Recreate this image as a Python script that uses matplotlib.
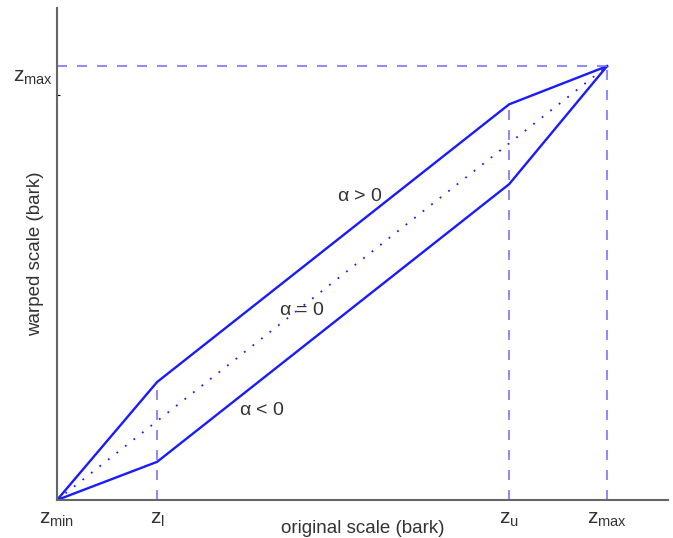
import numpy as np
import matplotlib.pyplot as plt

plt.rcParams['font.family'] = ['Liberation Sans', 'DejaVu Sans']
plt.rcParams['mathtext.fontset'] = 'custom'
plt.rcParams['mathtext.rm'] = 'Liberation Sans'
plt.rcParams['mathtext.it'] = 'Liberation Sans'

# breakpoints of the piecewise linear warping (normalised bark units)
z_min, z_l, z_u, z_max = 0.0, 0.182, 0.822, 1.0
knots = [z_min, z_l, z_u, z_max]
warp_pos = [0.0, 0.272, 0.912, 1.0]   # alpha > 0
warp_neg = [0.0, 0.088, 0.728, 1.0]   # alpha < 0
tick_labels = [r'$z_{\rm min}$', r'$z_{\rm l}$', r'$z_{\rm u}$', r'$z_{\rm max}$']

fig = plt.figure(figsize=(6.73, 5.38), dpi=100)
ax = fig.add_axes([0.0847, 0.0706, 0.908, 0.9145])

blue = '#1a1aff'
guide = '#7777ff'
txt = '#333333'

ax.plot(knots, warp_pos, color=blue, lw=1.7)
ax.plot(knots, warp_neg, color=blue, lw=1.7)
ax.plot([z_min, z_max], [z_min, z_max], color=blue, lw=1.3, ls=(0, (1, 5)))

# dashed guide lines
for xv, top in [(z_l, warp_pos[1]), (z_u, warp_pos[2]), (z_max, z_max)]:
    ax.plot([xv, xv], [0, top], color=guide, lw=1.2, ls=(0, (6, 6)))
ax.plot([0, z_max], [z_max, z_max], color=guide, lw=1.2, ls=(0, (6, 6)))

ax.text(0.55, 0.70, r'$\alpha$ > 0', fontsize=14, color=txt, ha='center', va='center')
ax.text(0.445, 0.436, r'$\alpha$ = 0', fontsize=14, color=txt, ha='center', va='center')
ax.text(0.372, 0.207, r'$\alpha$ < 0', fontsize=14, color=txt, ha='center', va='center')

ax.set_xlim(0, 1.111)
ax.set_ylim(0, 1.134)
ax.set_xticks(knots)
ax.set_xticklabels(tick_labels, fontsize=15, color=txt)
ax.tick_params(axis='x', length=0, pad=7)
ax.set_yticks([0.933])
ax.set_yticklabels([''])
ax.tick_params(axis='y', length=2, direction='in', color='black')
ax.text(-0.008, 0.975, r'$z_{\rm max}$', fontsize=15, color=txt,
        ha='right', va='center', transform=ax.transData)

ax.set_xlabel('original scale (bark)', fontsize=13.5, color=txt, labelpad=-6)
ax.set_ylabel('warped scale (bark)', fontsize=13.5, color=txt, labelpad=6)

for s in ['top', 'right']:
    ax.spines[s].set_visible(False)
for s in ['left', 'bottom']:
    ax.spines[s].set_color('#666666')
    ax.spines[s].set_linewidth(1.5)

fig.savefig('out.png', dpi=100)
